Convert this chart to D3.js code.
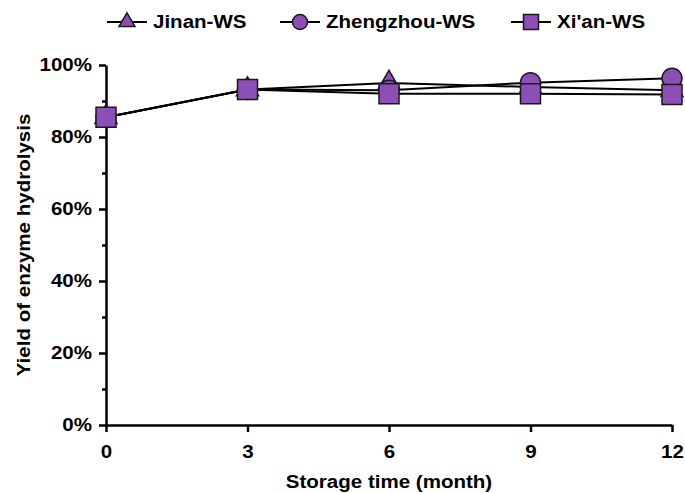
<!DOCTYPE html>
<html><head><meta charset="utf-8">
<script src="https://cdn.jsdelivr.net/npm/d3@7"></script>
<style>
body{margin:0;background:#fff}
text{font-family:"Liberation Sans",Arial,sans-serif;font-weight:bold;fill:#000}
</style>
</head><body><svg id="c" width="685" height="493"></svg>
<script>
const months = [0, 3, 6, 9, 12];
const seriesNames = ["Jinan-WS", "Zhengzhou-WS", "Xi'an-WS"];
const jinan = [85.5, 93.2, 95.0, 93.9, 93.0];
const zhengzhou = [85.5, 93.2, 93.0, 95.1, 96.3];
const xian = [85.5, 93.2, 92.0, 92.0, 91.8];
const yTicks = [0, 20, 40, 60, 80, 100];
const yMinor = [10, 30, 50, 70, 90];
const xTicks = [0, 3, 6, 9, 12];
const xTitle = "Storage time (month)";
const yTitle = "Yield of enzyme hydrolysis";

const series = [
  {name: seriesNames[0], values: jinan, sym: d3.symbolTriangle},
  {name: seriesNames[1], values: zhengzhou, sym: d3.symbolCircle},
  {name: seriesNames[2], values: xian, sym: d3.symbolSquare}
];

const svg = d3.select("#c");
const x = d3.scaleLinear().domain([0, 12]).range([106, 672]);
const y = d3.scaleLinear().domain([0, 100]).range([425, 65]);
const FILL = "#8d4fb7", FS = 18;

// axes
const ya = svg.append("g").attr("transform", `translate(${x(0)},0)`)
  .call(d3.axisLeft(y).tickValues(yTicks).tickFormat(d => d + "%").tickSize(7).tickSizeOuter(0).tickPadding(7));
svg.append("g").attr("transform", `translate(${x(0)},0)`)
  .call(d3.axisLeft(y).tickValues(yMinor).tickFormat("").tickSize(4).tickSizeOuter(0))
  .call(g => g.select(".domain").remove());
const xa = svg.append("g").attr("transform", `translate(0,${y(0)})`)
  .call(d3.axisBottom(x).tickValues(xTicks).tickFormat(d3.format("d")).tickSize(7).tickSizeOuter(0).tickPadding(13));
svg.selectAll(".domain").attr("stroke", "#000").attr("stroke-width", 2.5);
svg.selectAll(".tick line").attr("stroke", "#000").attr("stroke-width", 2.5);
svg.selectAll(".tick text").attr("font-size", FS).attr("font-family", null).style("font-weight", "bold");

// lines
const line = d3.line().x((d, i) => x(months[i])).y(d => y(d));
series.forEach(s => {
  svg.append("path").attr("d", line(s.values)).attr("fill", "none")
    .attr("stroke", "#000").attr("stroke-width", 2);
});
// markers
const symSize = {[d3.symbolTriangle]: 0, };
function area(sym, w) {
  if (sym === d3.symbolSquare) return w * w;
  if (sym === d3.symbolCircle) return Math.PI * (w / 2) * (w / 2);
  return Math.sqrt(3) / 4 * w * w;
}
series.forEach(s => {
  svg.append("g").selectAll("path").data(s.values).join("path")
    .attr("transform", (d, i) => `translate(${x(months[i])},${y(d)})`)
    .attr("d", d3.symbol().type(s.sym).size(area(s.sym, s.sym === d3.symbolTriangle ? 22 : 20)))
    .attr("fill", FILL).attr("stroke", "#1a1a1a").attr("stroke-width", 1.5);
});

// legend
const legX = [107, 280, 511];
series.forEach((s, k) => {
  const g = svg.append("g").attr("transform", `translate(${legX[k]},22)`);
  g.append("line").attr("x1", 0).attr("x2", 40).attr("stroke", "#000").attr("stroke-width", 2);
  g.append("path").attr("transform", "translate(20,0)")
    .attr("d", d3.symbol().type(s.sym).size(area(s.sym, s.sym === d3.symbolTriangle ? 16 : 15)))
    .attr("fill", FILL).attr("stroke", "#1a1a1a").attr("stroke-width", 1.5);
  g.append("text").attr("x", 46).attr("dy", "0.35em").attr("font-size", FS).text(s.name);
});

// titles
svg.append("text").attr("x", (x(0) + x(12)) / 2).attr("y", 488).attr("text-anchor", "middle")
  .attr("font-size", FS).text(xTitle);
svg.append("text").attr("transform", `translate(24,${(y(0) + y(100)) / 2}) rotate(-90)`)
  .attr("text-anchor", "middle").attr("dy", "0.35em").attr("font-size", FS).text(yTitle);

// horizontal stretch to match the original's wide glyphs
svg.selectAll("text").each(function() {
  const len = this.getComputedTextLength();
  if (len > 0) d3.select(this).attr("textLength", len * 1.14).attr("lengthAdjust", "spacingAndGlyphs");
});
</script></body></html>
